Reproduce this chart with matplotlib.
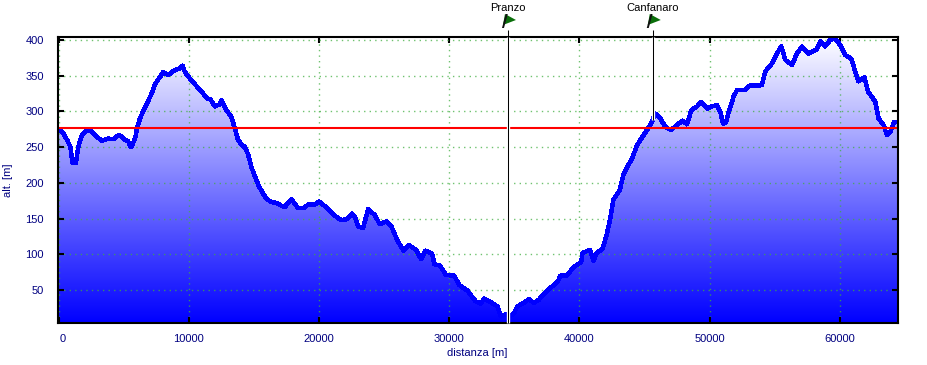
import matplotlib
matplotlib.use("Agg")
import matplotlib.pyplot as plt
import numpy as np
from matplotlib.patches import Polygon
from matplotlib.transforms import Affine2D, ScaledTranslation

# profile
distanza = [0, 310, 700, 905, 1060, 1210, 1325, 1500, 1760, 2090, 2400, 2910, 3300, 3810, 4200, 4500,
            4760, 5090, 5345, 5525, 5650, 5910, 6040, 6240, 6550, 6750, 7140, 7390, 7725, 8030, 8415,
            8925, 9310, 9515, 9695, 10205, 10715, 11100, 11405, 11660, 11990, 12370, 12500, 12880,
            13265, 13470, 13600, 13775, 14160, 14290, 14545, 14800, 15055, 15385, 15695, 15950, 16335,
            16720, 17105, 17360, 17615, 17870, 18380,
            18855, 19185, 19700, 20000, 20460, 20970, 21480, 21730, 22110, 22545, 22750, 23000, 23385,
            23765, 24275, 24660, 25165, 25550, 26050, 26490, 26900, 27455, 27840, 28170, 28680, 28855,
            29290, 29745, 30380, 30760, 31400, 32030, 32415, 32670, 33180, 33690, 33945, 34325,
            34710, 34960, 35220, 35725, 36110, 36490, 36870, 37380, 37890, 38345, 38525, 39030, 39540,
            40130, 40230, 40815, 41070, 41320, 41760, 42085, 42340, 42595, 43100, 43360, 43690,
            44040, 44425, 44935, 45445, 45830, 46215, 46600, 47030, 47620, 47930, 48260, 48595, 49030,
            49335, 49795, 50180, 50560, 50820, 51025, 51250, 51460, 51840, 52100, 52735, 53050, 53620,
            54015, 54270, 54780, 55165, 55500, 55810, 56320, 56700, 57085, 57600, 58235, 58490, 58875,
            59255, 59640, 60020, 60400, 60870, 61175, 61430, 61890, 62150, 62710, 62970, 63350, 63605,
            63860, 64170, 64400]
altitudine = [275, 271, 258, 250, 228, 228, 228, 250, 266, 272, 274, 265, 259, 262, 261, 266,
              266, 260, 258, 250, 252, 266, 278, 290, 303, 310, 325, 338, 347, 355, 351,
              358, 360, 364, 355, 343, 333, 325, 318, 317, 307, 310, 316, 302,
              292, 280, 272, 260, 251, 251, 240, 222, 210, 195, 185, 178, 173,
              172, 168, 166, 172, 177, 165,
              165, 170, 170, 174, 167, 158, 150, 148, 149, 157, 152, 139, 137,
              163, 155, 142, 146, 139, 118, 105, 113, 106, 93, 105, 101, 86,
              84, 71, 70, 57, 49, 34, 31, 38, 33, 27, 13, 16,
              14, 17, 27, 32, 37, 32, 36, 47, 55, 62, 70, 70, 82,
              89, 102, 106, 91, 102, 107, 127, 148, 176, 190, 211, 223,
              234, 253, 267, 281, 297, 290, 278, 274, 283, 287, 282, 302, 307,
              313, 304, 307, 309, 299, 283, 285, 299, 321, 330, 330, 336, 336,
              337, 356, 367, 381, 391, 372, 365, 381, 391, 381, 387, 398, 391,
              400, 402, 393, 379, 374, 356, 342, 348, 328, 314, 290, 281, 267,
              271, 285, 285]
soglia = 277
x_ticks = [0, 10000, 20000, 30000, 40000, 50000, 60000]
y_ticks = [50, 100, 150, 200, 250, 300, 350, 400]
waypoint_nomi = ["Pranzo", "Canfanaro"]
waypoint_dist = [34530, 45650]
waypoint_alt = [4.2, 288]

W, H = 927, 365
NAVY = "#000080"
plt.rcParams["font.family"] = ["Liberation Sans", "DejaVu Sans"]
plt.rcParams["font.size"] = 8

fig = plt.figure(figsize=(W / 100, H / 100), dpi=100)
ax = fig.add_axes([58.3 / W, 1 - 322.7 / H, (897.7 - 58.3) / W, (322.7 - 36.7) / H])
x0, x1 = -30, 64440
y0, y1 = 4.2, 404.6

# gradient fill under the profile, white at the top, pure blue at the bottom
grad = np.ones((256, 1, 3))
grad[:, 0, 0] = np.linspace(0, 1, 256)
grad[:, 0, 1] = np.linspace(0, 1, 256)
im = ax.imshow(grad, origin="lower", aspect="auto", extent=(x0, x1, y0, y1), zorder=1)
clip = Polygon(list(zip(distanza, altitudine)) + [(distanza[-1], y0), (x1, y0), (x0, y0), (0, y0)],
               closed=True, transform=ax.transData)
im.set_clip_path(clip)

ax.set_xlim(x0, x1)
ax.set_ylim(y0, y1)

ax.set_axisbelow(False)
ax.grid(True, color="#3fae3f", alpha=0.75, linestyle=(0, (1, 3)), linewidth=1)
for line in ax.get_xgridlines() + ax.get_ygridlines():
    line.set_zorder(2)

ax.plot(distanza, altitudine, color="#0000ff", linewidth=2.5, antialiased=False,
        solid_joinstyle="round", zorder=3)
ax.axhline(soglia, color="#ff0000", linewidth=1.5, zorder=4)

ax.set_xticks(x_ticks)
ax.set_yticks(y_ticks)
ax.tick_params(axis="both", which="major", direction="in", length=4, width=1.5,
               top=True, right=True, colors="black", labelcolor=NAVY, labelsize=8)
ax.tick_params(axis="x", pad=8)
ax.tick_params(axis="y", pad=10.5)
for s in ax.spines.values():
    s.set_linewidth(1.5)
    s.set_zorder(5)

# the 0 label sits a bit right of its tick
lab0 = ax.get_xticklabels()[0]
lab0.set_transform(lab0.get_transform() + ScaledTranslation(3 / 72, 0, fig.dpi_scale_trans))

fig.text(477 / W, 1 - 352.5 / H, "distanza [m]", color=NAVY, ha="center", va="center", fontsize=8)
fig.text(8 / W, 1 - 180 / H, "alt. [m]", color=NAVY, ha="center", va="center", rotation=90, fontsize=8)

# waypoints: white halo, black line, flag on top
tr = ax.get_xaxis_transform()
for nome, d, a in zip(waypoint_nomi, waypoint_dist, waypoint_alt):
    frac = (a - y0) / (y1 - y0)
    ax.plot([d, d], [frac, 1.0], transform=tr, color="white", linewidth=2.4, clip_on=False,
            solid_capstyle="butt", zorder=6)
    ax.plot([d, d], [frac, 1.025], transform=tr, color="black", linewidth=0.75, clip_on=False,
            solid_capstyle="butt", zorder=7)
    px, py = tr.transform((d, 1.0))
    at = Affine2D().translate(px, py)
    ax.add_patch(Polygon([(-3.3, 22.7), (7.7, 16.7), (-5.3, 11.7)], closed=True, facecolor="#0a6e0a",
                         edgecolor="none", transform=at, clip_on=False, zorder=8))
    ax.add_patch(Polygon([(-0.5, 22.7), (-2.5, 22.7), (-6.3, 8.7), (-4.3, 8.7)], closed=True, facecolor="#111111",
                         edgecolor="none", transform=at, clip_on=False, zorder=9))
    ax.text(d, 1.1, nome, transform=tr, color="black",
            ha="center", va="center", fontsize=8, clip_on=False)

fig.savefig("out.png", dpi=100)
